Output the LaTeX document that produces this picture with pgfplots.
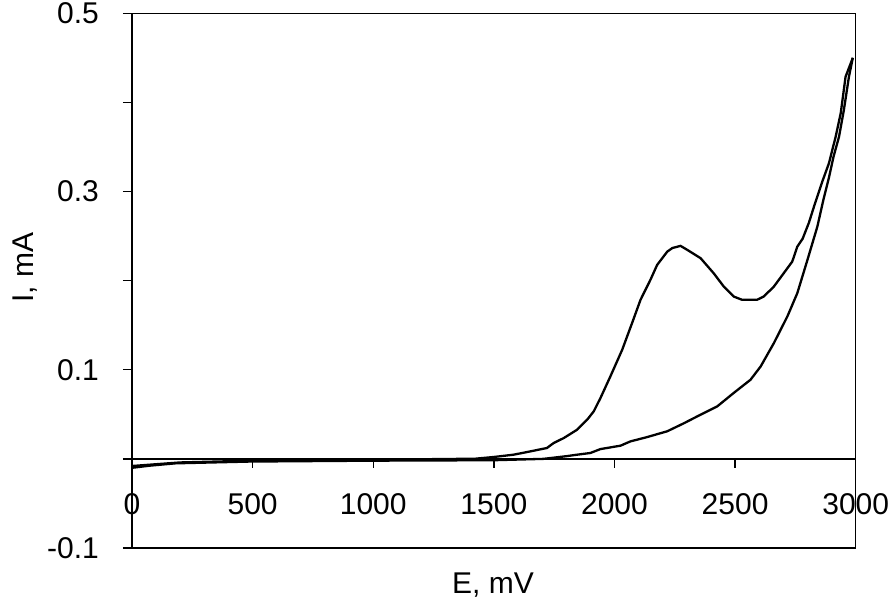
\documentclass[border=0pt]{standalone}
\usepackage{fontspec}
\setmainfont{Liberation Sans}
\usepackage{pgfplots}
\pgfplotsset{compat=1.18}

% forward sweep (lower branch), E in mV, I in mA
\pgfplotstableread{
E     I
0     -0.010
75    -0.0076
180   -0.005
490   -0.003
1000  -0.002
1500  -0.0015
1705  0.000
1800  0.003
1845  0.0047
1900  0.0066
1942  0.011
2025  0.0148
2066  0.0196
2136  0.0245
2219  0.031
2288  0.040
2357  0.0496
2426  0.0589
2494  0.0739
2564  0.0888
2606  0.1037
2661  0.130
2717  0.160
2758  0.186
2800  0.2233
2841  0.2606
2866  0.2906
2889  0.3155
2908  0.339
2931  0.3616
2951  0.3915
2972  0.4288
2988  0.450
}\forward

% reverse sweep (upper branch with the peak)
\pgfplotstableread{
E     I
2988  0.450
2958  0.4288
2938  0.388
2917  0.3616
2889  0.3317
2860  0.310
2827  0.283
2806  0.265
2780  0.247
2758  0.2382
2737  0.2214
2717  0.214
2661  0.1934
2619  0.1822
2591  0.1785
2529  0.1785
2494  0.1822
2453  0.1934
2411  0.2084
2357  0.2252
2302  0.2345
2274  0.239
2240  0.2366
2219  0.2326
2177  0.2177
2149  0.2009
2108  0.1785
2073  0.1524
2032  0.1224
1983  0.0925
1942  0.0683
1914  0.0533
1887  0.044
1845  0.0327
1790  0.0234
1748  0.0178
1720  0.0122
1651  0.0084
1582  0.0047
1499  0.0021
1423  0.0002
1000  -0.001
500   -0.002
200   -0.004
50    -0.007
0     -0.008
}\reverse

\begin{document}
\fontsize{30}{34}\selectfont
\begin{tikzpicture}
\useasboundingbox (-132pt,-61pt) rectangle (763pt,548pt);
\pgfplotsset{
  common/.style={
    scale only axis,
    width=723.7pt, height=534.7pt,
    xmin=0, xmax=3000, ymin=-0.1, ymax=0.5,
    /pgf/number format/assume math mode=true,
    /pgf/number format/set thousands separator={},
    ticklabel style={font=\fontsize{30}{34}\selectfont},
    major tick length=9pt,
    tick style={black, line width=1.3pt},
  },
}
\begin{axis}[
  common,
  axis line style={line width=1.5pt},
  xtick=\empty,
  ytick={-0.1,0,0.1,0.2,0.3,0.4,0.5},
  yticklabels={-0.1,,0.1,,0.3,,0.5},
  ytick pos=left,
  tick align=outside,
  yticklabel style={xshift=-14pt},
  xlabel={E, mV},
  ylabel={I, mA},
  label style={font=\fontsize{30}{34}\selectfont},
  xlabel style={at={(axis description cs:0.4988,-0.069)}, anchor=center},
  ylabel style={at={(axis description cs:-0.148,0.5246)}, anchor=center, rotate=0},
]
\addplot[black, line width=2.3pt, sharp plot] table[x=E, y=I] {\forward};
\addplot[black, line width=2.3pt, sharp plot] table[x=E, y=I] {\reverse};
\end{axis}
\begin{axis}[
  common,
  axis x line=middle,
  axis y line=none,
  axis line style={-, line width=1.5pt},
  xtick={0,500,...,3000},
  ytick=\empty,
  tick align=outside,
  hide obscured x ticks=false,
  xticklabel style={anchor=north, yshift=-15pt},
]
\end{axis}
\end{tikzpicture}
\end{document}
